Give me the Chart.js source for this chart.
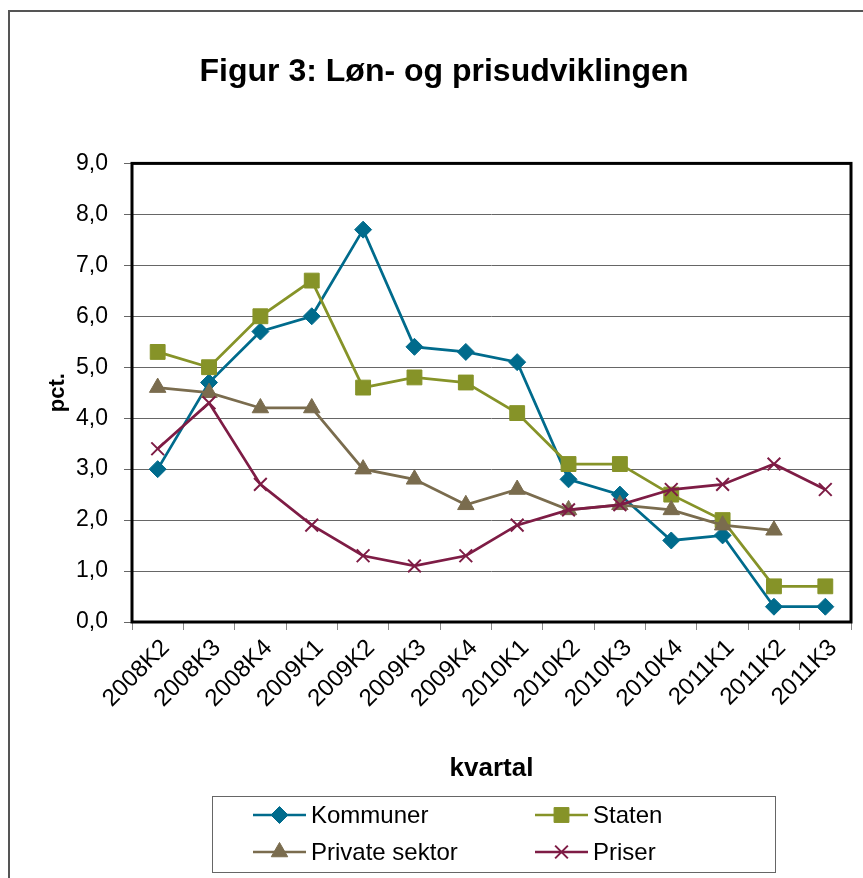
<!DOCTYPE html>
<html>
<head>
<meta charset="utf-8">
<script src="https://cdn.jsdelivr.net/npm/chart.js@4/dist/chart.umd.min.js"></script>
<style>
  html, body { margin: 0; padding: 0; background: #fff; }
  #wrap { width: 863px; height: 878px; }
</style>
</head>
<body>
<div id="wrap"><canvas id="chart" width="863" height="878"></canvas></div>
<script>
// data
const kvartaler = ["2008K2", "2008K3", "2008K4", "2009K1", "2009K2", "2009K3", "2009K4",
  "2010K1", "2010K2", "2010K3", "2010K4", "2011K1", "2011K2", "2011K3"];
const kommuner = [3.0, 4.7, 5.7, 6.0, 7.7, 5.4, 5.3, 5.1, 2.8, 2.5, 1.6, 1.7, 0.3, 0.3];
const staten = [5.3, 5.0, 6.0, 6.7, 4.6, 4.8, 4.7, 4.1, 3.1, 3.1, 2.5, 2.0, 0.7, 0.7];
const privatSektor = [4.6, 4.5, 4.2, 4.2, 3.0, 2.8, 2.3, 2.6, 2.2, 2.3, 2.2, 1.9, 1.8, null];
const priser = [3.4, 4.3, 2.7, 1.9, 1.3, 1.1, 1.3, 1.9, 2.2, 2.3, 2.6, 2.7, 3.1, 2.6];
const yTicks = [0, 1, 2, 3, 4, 5, 6, 7, 8, 9];

const FONT = "'Liberation Sans', Arial, sans-serif";

const series = [
  { label: "Kommuner", data: kommuner, color: "#006b8c", style: "rectRot", r: 8.5, bw: 1, order: 3 },
  { label: "Staten", data: staten, color: "#869328", style: "rect", r: 10.5, bw: 1, order: 2 },
  { label: "Private sektor", data: privatSektor, color: "#7a6c4e", style: "triangle", r: 9.5, bw: 1, order: 1 },
  { label: "Priser", data: priser, color: "#7e1c45", style: "crossRot", r: 9, bw: 2, order: 0 },
];

// outer frame + plot frame
const frames = {
  id: "frames",
  beforeDatasetsDraw(chart) {
    const { ctx, chartArea: a } = chart;
    ctx.save();
    ctx.strokeStyle = "#000";
    ctx.lineWidth = 3;
    ctx.strokeRect(a.left, a.top, a.right - a.left, a.bottom - a.top);
    ctx.restore();
  },
  afterDraw(chart) {
    const ctx = chart.ctx;
    ctx.save();
    ctx.strokeStyle = "#555";
    ctx.lineWidth = 2;
    ctx.strokeRect(9, 11, 900, 900);
    ctx.restore();
  },
};

// legend box like the Excel one (two columns)
const boxLegend = {
  id: "boxLegend",
  afterDraw(chart) {
    const ctx = chart.ctx;
    ctx.save();
    ctx.strokeStyle = "#666";
    ctx.lineWidth = 1;
    ctx.strokeRect(212.5, 796.5, 563, 76);
    const cols = [253, 535];
    const rows = [815, 852];
    chart.data.datasets.forEach((ds, i) => {
      const x = cols[i % 2];
      const y = rows[Math.floor(i / 2)];
      ctx.strokeStyle = ds.borderColor;
      ctx.fillStyle = ds.borderColor;
      ctx.lineWidth = 2.5;
      ctx.beginPath();
      ctx.moveTo(x, y);
      ctx.lineTo(x + 53, y);
      ctx.stroke();
      ctx.lineWidth = ds.pointBorderWidth;
      Chart.helpers.drawPoint(ctx, {
        pointStyle: ds.pointStyle,
        radius: ds.pointRadius,
        borderWidth: ds.pointBorderWidth,
        rotation: 0,
      }, x + 26.5, y);
      ctx.fillStyle = "#000";
      ctx.font = "24px " + FONT;
      ctx.textBaseline = "middle";
      ctx.textAlign = "left";
      ctx.fillText(ds.label, x + 58, y + 1);
    });
    ctx.restore();
  },
};

new Chart(document.getElementById("chart"), {
  type: "line",
  data: {
    labels: kvartaler,
    datasets: series.map((s) => ({
      label: s.label,
      data: s.data,
      order: s.order,
      borderColor: s.color,
      backgroundColor: s.color,
      borderWidth: 2.75,
      tension: 0,
      fill: false,
      pointStyle: s.style,
      pointRadius: s.r,
      pointHoverRadius: s.r,
      pointBackgroundColor: s.color,
      pointBorderColor: s.color,
      pointBorderWidth: s.bw,
    })),
  },
  options: {
    responsive: false,
    animation: false,
    layout: { padding: { left: 37, right: 12, top: 20, bottom: 88 } },
    plugins: {
      legend: { display: false },
      tooltip: { enabled: false },
      title: {
        display: true,
        text: "Figur 3: Løn- og prisudviklingen",
        color: "#000",
        font: { family: FONT, size: 32, weight: "bold" },
        padding: { top: 33, bottom: 72 },
      },
    },
    scales: {
      x: {
        offset: true,
        grid: { offset: true, drawOnChartArea: false, drawTicks: true, tickLength: 8, color: "#888" },
        border: { display: false },
        ticks: {
          color: "#000",
          font: { family: FONT, size: 24 },
          minRotation: 45,
          maxRotation: 45,
          padding: 4,
          labelOffset: 8,
          autoSkip: false,
        },
        title: {
          display: true,
          text: "kvartal",
          color: "#000",
          font: { family: FONT, size: 26, weight: "bold" },
          padding: { top: 0, bottom: 6 },
        },
        afterFit(scale) { scale.height = 168; },
      },
      y: {
        min: 0,
        max: 9,
        afterBuildTicks(scale) { scale.ticks = yTicks.map((v) => ({ value: v })); },
        grid: { color: "#666", lineWidth: 1, tickLength: 8 },
        border: { display: false },
        ticks: {
          color: "#000",
          font: { family: FONT, size: 23 },
          padding: 16,
          callback: (v) => v.toFixed(1).replace(".", ","),
        },
        title: {
          display: true,
          text: "pct.",
          color: "#000",
          font: { family: FONT, size: 22, weight: "bold" },
          padding: { top: 8, bottom: 0 },
        },
        afterFit(scale) { scale.width = 95; },
      },
    },
  },
  plugins: [frames, boxLegend],
});
</script>
</body>
</html>
